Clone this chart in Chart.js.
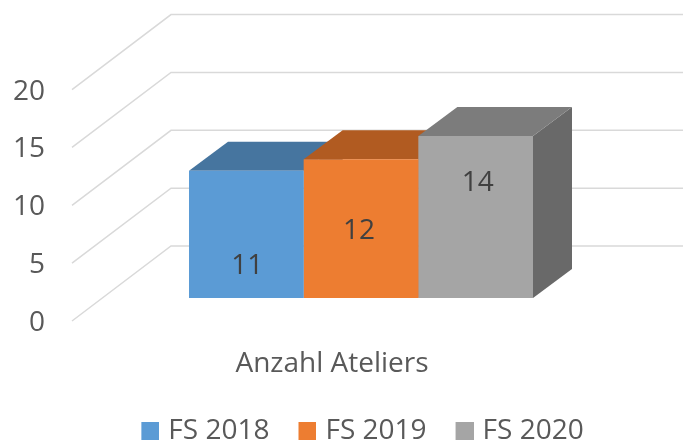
<!DOCTYPE html>
<html><head><meta charset="utf-8">
<style>html,body{margin:0;padding:0;background:#fff}#w{width:683px;height:441px}</style>
<script src="https://cdn.jsdelivr.net/npm/chart.js@4"></script>
</head><body><div id="w"><canvas id="c"></canvas></div>
<script>
const categories = ['Anzahl Ateliers'];
const seriesNames = ['FS 2018', 'FS 2019', 'FS 2020'];
const fs2018 = [11];
const fs2019 = [12];
const fs2020 = [14];
const yTicks = [0, 5, 10, 15, 20];

const frontColors = ['#5B9BD5', '#ED7D31', '#A5A5A5'];
const topColors = ['#46759F', '#B15B21', '#7C7C7C'];
const sideColors = ['#3E6990', '#9E5120', '#696969'];
const labelLift = [32, 67, 115];
const labelShift = [1, -2, 2];
const DX = 39, DY = -29;
const FONT = '"Open Sans", sans-serif';

function swatch(color) {
  const s = document.createElement('canvas');
  s.width = 23; s.height = 18;
  const g = s.getContext('2d');
  g.fillStyle = color;
  g.fillRect(5, 0, 18, 18);
  return s;
}

const depth = {
  id: 'depth',
  afterLayout(chart) {
    chart.legend.left = 76;
    chart.legend.right = 649;
  },
  beforeDatasetsDraw(chart) {
    const c = chart.ctx, y = chart.scales.y, a = chart.chartArea;
    c.save();
    c.strokeStyle = '#D9D9D9'; c.lineWidth = 1.5;
    yTicks.forEach(v => {
      const p = y.getPixelForValue(v);
      c.beginPath();
      c.moveTo(a.left - 3, p + 23);
      c.lineTo(171, p - 52);
      c.lineTo(683, p - 52);
      c.stroke();
    });
    chart.data.datasets.forEach((d, i) => {
      const b = chart.getDatasetMeta(i).data[0];
      const l = b.x - b.width / 2, r = b.x + b.width / 2;
      c.fillStyle = sideColors[i];
      c.beginPath();
      c.moveTo(r, b.y); c.lineTo(r + DX, b.y + DY); c.lineTo(r + DX, b.base + DY); c.lineTo(r, b.base);
      c.closePath(); c.fill();
      c.fillStyle = topColors[i];
      c.beginPath();
      c.moveTo(l, b.y); c.lineTo(l + DX, b.y + DY); c.lineTo(r + DX, b.y + DY); c.lineTo(r, b.y);
      c.closePath(); c.fill();
    });
    c.restore();
  },
  afterDatasetsDraw(chart) {
    const c = chart.ctx;
    c.save();
    c.font = '28px ' + FONT;
    c.fillStyle = '#404040';
    c.textAlign = 'center'; c.textBaseline = 'middle';
    chart.data.datasets.forEach((d, i) => {
      const b = chart.getDatasetMeta(i).data[0];
      c.fillText(String(d.data[0]), b.x + labelShift[i], b.base - labelLift[i]);
    });
    c.restore();
  }
};

new Chart(document.getElementById('c'), {
  type: 'bar',
  data: {
    labels: categories,
    datasets: [fs2018, fs2019, fs2020].map((v, i) => ({
      label: seriesNames[i], data: v, backgroundColor: frontColors[i], borderWidth: 0
    }))
  },
  options: {
    responsive: true, maintainAspectRatio: false, animation: false,
    layout: { padding: { top: 66.6, right: 36, bottom: -14, left: 0 } },
    datasets: { bar: { barPercentage: 1, categoryPercentage: 0.6014 } },
    scales: {
      x: {
        grid: { display: false }, border: { display: false },
        ticks: { color: '#595959', font: { family: FONT, size: 28 }, labelOffset: -29, padding: 41 },
        afterFit(s) { s.height = 90; }
      },
      y: {
        min: 0, max: 20,
        afterBuildTicks(s) { s.ticks = yTicks.map(v => ({ value: v })); },
        afterFit(s) { s.width = 75; },
        grid: { display: false }, border: { display: false },
        ticks: { color: '#595959', font: { family: FONT, size: 28 }, labelOffset: 25, padding: 22 }
      }
    },
    plugins: {
      tooltip: { enabled: false },
      legend: {
        position: 'bottom',
        labels: {
          usePointStyle: true, pointStyleWidth: 13, boxHeight: 18, padding: 29,
          color: '#595959', font: { family: FONT, size: 28 },
          generateLabels(chart) {
            return Chart.defaults.plugins.legend.labels.generateLabels(chart).map((it, i) => {
              it.pointStyle = swatch(frontColors[i]);
              return it;
            });
          }
        }
      }
    }
  },
  plugins: [depth]
});
</script></body></html>
